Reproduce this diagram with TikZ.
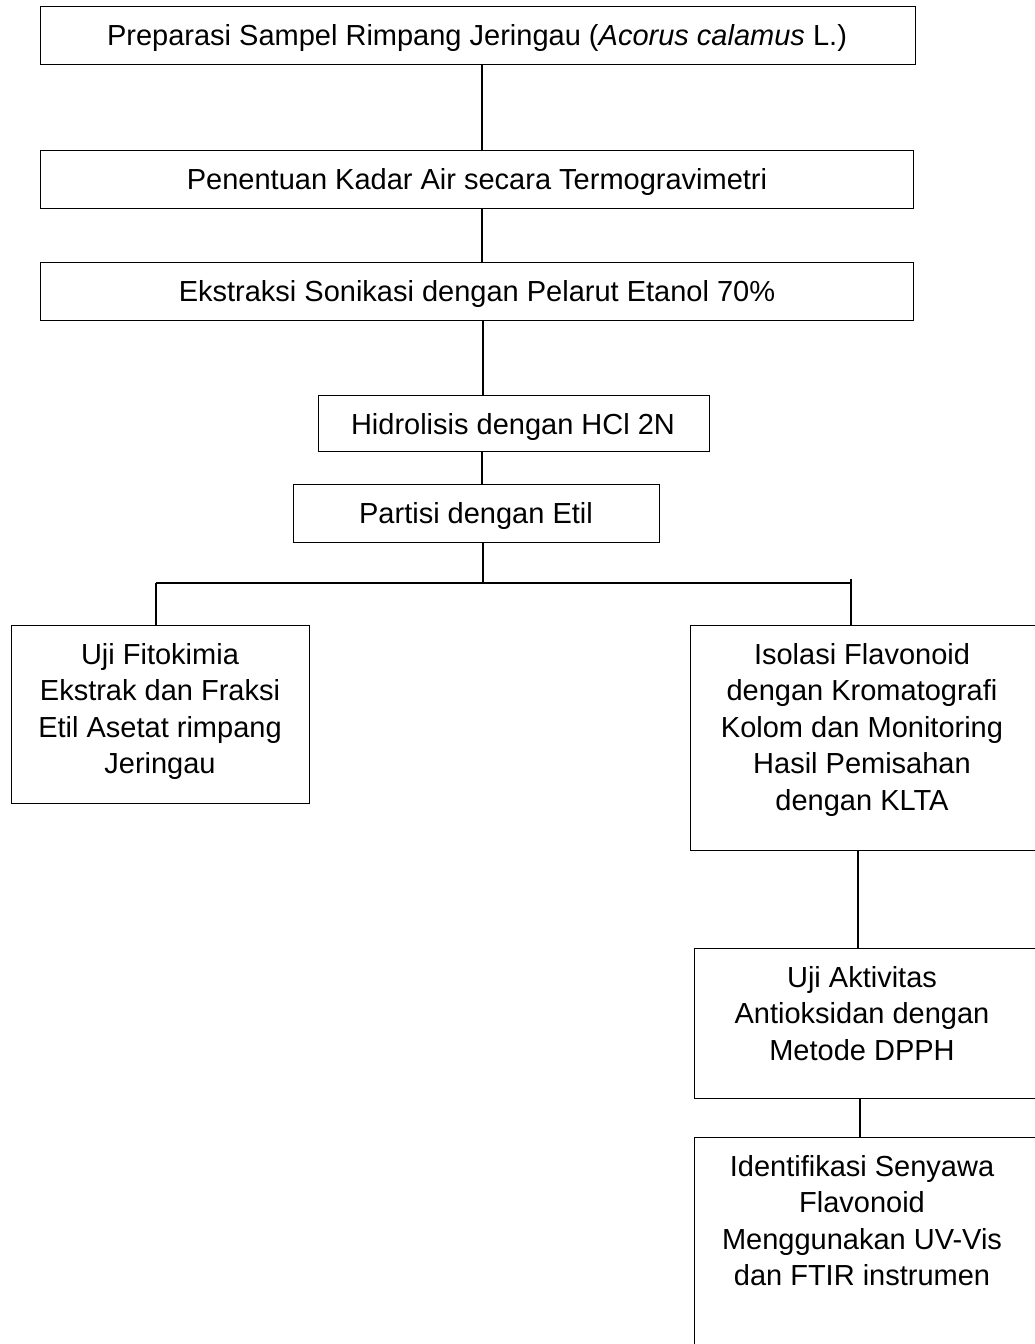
\documentclass[tikz,border=0pt]{standalone}
\usepackage{fontspec}
\setmainfont{Liberation Sans}
\usetikzlibrary{positioning, math}

\tikzset{
  kotak/.style={draw, line width=1.3pt, rectangle, anchor=north west, inner sep=0pt},
  isi/.style={anchor=north, align=center, inner sep=0pt, font=\fontsize{29}{36.5}\selectfont},
  garis/.style={line width=1.3pt}
}

\begin{document}
\begin{tikzpicture}[x=1pt,y=-1pt]
\tikzmath{
\turun=18;
\kanantepi=1038;
}
\useasboundingbox (0,0) rectangle (1035,1344);
\clip (0,0) rectangle (1035,1344);

\coordinate (sumbu) at (482,0);
\coordinate (cabang) at (483,583);
\coordinate (kiri) at (156,583);
\coordinate (kanan) at (851,583);
\coordinate (kananatas) at (851,579);
\coordinate (sumbudua) at (858,0);
\coordinate (sumbutiga) at (860,0);

% kotak alur utama
\node[kotak, minimum width=875pt, minimum height=58pt] (b1) at (40,6) {};
\node[kotak, minimum width=873pt, minimum height=58pt] (b2) at (40,150) {};
\node[kotak, minimum width=873pt, minimum height=58pt] (b3) at (40,262) {};
\node[kotak, minimum width=391pt, minimum height=56pt] (b4) at (318,395) {};
\node[kotak, minimum width=366pt, minimum height=58pt] (b5) at (293,484) {};
\node[kotak, minimum width=298pt, minimum height=178pt] (b6) at (11,625) {};
\node[kotak, minimum width=\kanantepi-690, minimum height=225pt] (b7) at (690,625) {};
\node[kotak, minimum width=\kanantepi-694, minimum height=150pt] (b8) at (694,948) {};
\node[kotak, minimum width=\kanantepi-694, minimum height=260pt] (b9) at (694,1137) {};

\node[isi] (t1) at (477,6+\turun) {Preparasi Sampel Rimpang Jeringau (\textit{Acorus calamus} L.)};
\node[isi] (t2) at (477,150+\turun) {Penentuan Kadar Air secara Termogravimetri};
\node[isi] (t3) at (477,262+\turun) {Ekstraksi Sonikasi dengan Pelarut Etanol 70\%};
\node[isi] (t4) at (513,395+\turun) {Hidrolisis dengan HCl 2N};
\node[isi] (t5) at (476,484+\turun) {Partisi dengan Etil};
\node[isi] (t6) at (160,625+\turun) {Uji Fitokimia\\Ekstrak dan Fraksi\\Etil Asetat rimpang\\Jeringau};
\node[isi] (t7) at (862,625+\turun) {Isolasi Flavonoid\\dengan Kromatografi\\Kolom dan Monitoring\\Hasil Pemisahan\\dengan KLTA};
\node[isi] (t8) at (862,948+\turun) {Uji Aktivitas\\Antioksidan dengan\\Metode DPPH};
\node[isi] (t9) at (862,1137+\turun) {Identifikasi Senyawa\\Flavonoid\\Menggunakan UV-Vis\\dan FTIR instrumen};

% penghubung
\draw[garis] (b1.south -| sumbu) -- (b2.north -| sumbu);
\draw[garis] (b2.south -| sumbu) -- (b3.north -| sumbu);
\draw[garis] (b3.south -| cabang) -- (b4.north -| cabang);
\draw[garis] (b4.south -| sumbu) -- (b5.north -| sumbu);
\draw[garis] (b5.south -| cabang) -- (cabang);
\draw[garis] (kiri) -- (kanan);
\draw[garis] (kiri) -- (b6.north -| kiri);
\draw[garis] (kananatas) -- (b7.north -| kanan);
\draw[garis] (b7.south -| sumbudua) -- (b8.north -| sumbudua);
\draw[garis] (b8.south -| sumbutiga) -- (b9.north -| sumbutiga);
\end{tikzpicture}
\end{document}
